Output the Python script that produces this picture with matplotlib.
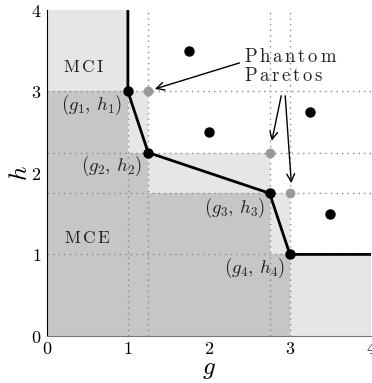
import matplotlib
matplotlib.use("Agg")
import matplotlib.pyplot as plt
import numpy as np

plt.rcParams['mathtext.fontset'] = 'cm'
plt.rcParams['font.family'] = 'serif'
plt.rcParams['font.serif'] = ['DejaVu Serif']

# pareto front points (g_i, h_i)
front_g = [1.0, 1.25, 2.75, 3.0]
front_h = [3.0, 2.25, 1.75, 1.0]
# phantom paretos
phantom_g = [1.25, 2.75, 3.0]
phantom_h = [3.0, 2.25, 1.75]
# other (dominated) points
other_g = [1.75, 2.0, 3.25, 3.5]
other_h = [3.5, 2.5, 2.75, 1.5]

# staircase edges for the shaded regions
step_x = [0, 1.0, 1.25, 2.75, 3.0, 4.0]
light_top = [4.0, 3.0, 2.25, 1.75, 1.0]
dark_top = [3.0, 2.25, 1.75, 1.0, 0.0]

point_labels = [r"$(g_1,\,h_1)$", r"$(g_2,\,h_2)$", r"$(g_3,\,h_3)$", r"$(g_4,\,h_4)$"]
label_pos = [(0.93, 2.83), (1.17, 2.09), (2.69, 1.57), (2.94, 0.83)]

fig = plt.figure(figsize=(3.72, 3.83), dpi=100)
ax = fig.add_axes([0.126, 0.123, 0.871, 0.851])

# shaded areas
for i in range(len(light_top)):
    ax.fill_between([step_x[i], step_x[i + 1]], 0, light_top[i],
                    color='#e6e6e6', lw=0, zorder=0)
    ax.fill_between([step_x[i], step_x[i + 1]], 0, dark_top[i],
                    color='#c6c6c6', lw=0, zorder=0)

# dotted guides
for g in front_g:
    ax.axvline(g, color='#888888', ls=(0, (1, 3)), lw=1, zorder=1)
for h in front_h:
    ax.axhline(h, color='#888888', ls=(0, (1, 3)), lw=1, zorder=1)

# frontier line
line_x = [front_g[0]] + front_g + [4.0]
line_y = [4.0] + front_h + [front_h[-1]]
ax.plot(line_x, line_y, color='black', lw=2, zorder=3)

ax.plot(front_g, front_h, 'o', color='black', ms=6.5, zorder=4)
ax.plot(other_g, other_h, 'o', color='black', ms=6.5, zorder=4)
ax.plot(phantom_g, phantom_h, 'o', color='#999999', ms=6, zorder=4)

for lab, (x, y) in zip(point_labels, label_pos):
    ax.text(x, y, lab, ha='right', va='center', fontsize=13.5, color='#222222')

ax.text(0.46, 3.29, r"$\mathrm{M\,C\,I}$", ha='center', va='center', fontsize=12.5, color='#222222')
ax.text(0.5, 1.19, r"$\mathrm{M\,C\,E}$", ha='center', va='center', fontsize=12.5, color='#222222')
ax.text(2.43, 3.31, "$\\mathrm{P\\,h\\,a\\,n\\,t\\,o\\,m}$\n$\\mathrm{P\\,a\\,r\\,e\\,t\\,o\\,s}$",
        ha='left', va='center', fontsize=13.5, color='#222222', linespacing=1.05)

arrow = dict(arrowstyle='->', color='black', lw=1, mutation_scale=14)
ax.annotate("", xy=(1.3, 3.02), xytext=(2.41, 3.36), arrowprops=arrow, zorder=5)
ax.annotate("", xy=(2.77, 2.36), xytext=(2.9, 2.98), arrowprops=arrow, zorder=5)
ax.annotate("", xy=(3.02, 1.84), xytext=(2.94, 2.98), arrowprops=arrow, zorder=5)

ax.set_xlim(0, 4)
ax.set_ylim(0, 4)
ax.set_xticks([0, 1, 2, 3, 4])
ax.set_yticks([0, 1, 2, 3, 4])
ax.set_xticklabels(["$%d$" % v for v in range(5)], fontsize=13)
ax.set_yticklabels(["$%d$" % v for v in range(5)], fontsize=13)
ax.tick_params(length=0)
ax.tick_params(axis='x', pad=3)
ax.tick_params(axis='y', pad=4)
ax.set_xlabel("$g$", fontsize=18, labelpad=0)
ax.set_ylabel("$h$", fontsize=18, labelpad=-1)

for s in ['top', 'right']:
    ax.spines[s].set_visible(False)
ax.spines['left'].set_color('black')
ax.spines['bottom'].set_color('#777777')

fig.savefig("out.png", dpi=100)
